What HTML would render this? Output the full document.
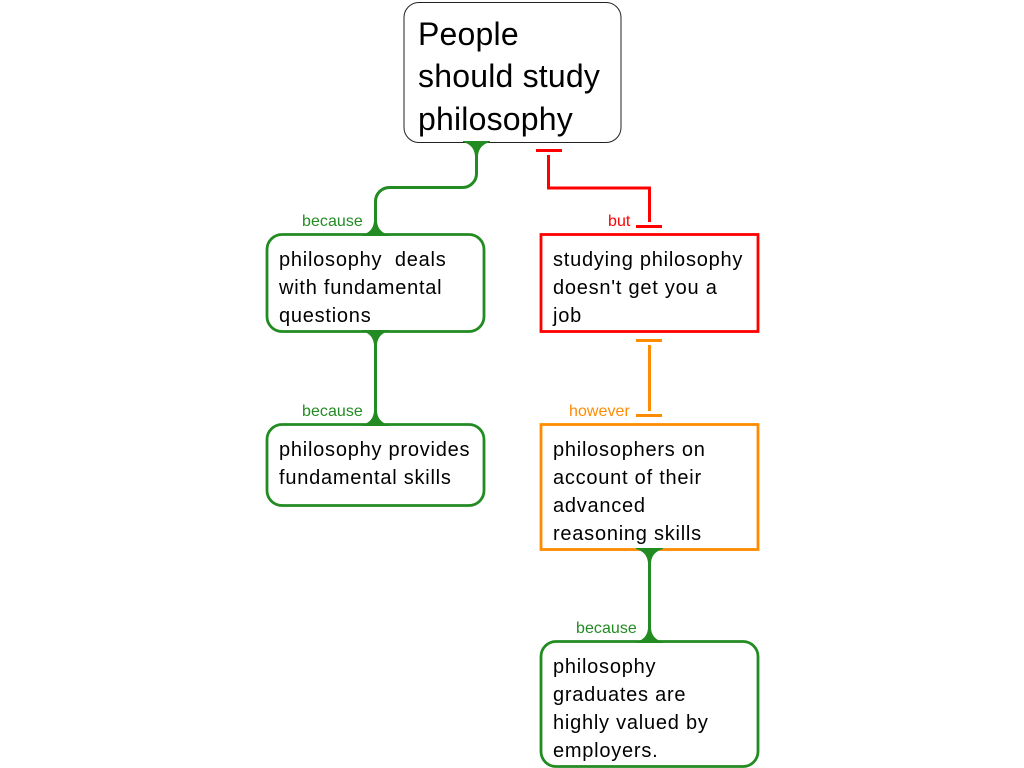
<!DOCTYPE html>
<html><head><meta charset="utf-8"><style>
html,body{margin:0;padding:0;background:#fff;width:1024px;height:768px;overflow:hidden}
svg{display:block}
text{font-family:"Liberation Sans",sans-serif}
.t{font-size:20px;letter-spacing:.76px;fill:#000}
.h{font-size:32px;letter-spacing:.2px;fill:#000}
.l{font-size:16px;letter-spacing:.05px}
</style></head><body>
<svg width="1024" height="768" viewBox="0 0 1024 768" xmlns="http://www.w3.org/2000/svg">
<g fill="none" stroke="#228b22" stroke-width="3">
<path d="M476.500 142V173A14 14 0 0 1 462.500 187.500H389.500A14 14 0 0 0 375.500 201.500V234"/>
<path d="M375.500 332V424"/>
<path d="M649.500 550V641"/>
</g>
<g fill="none" stroke="#ff0000" stroke-width="3">
<path d="M536 150.500H562M548.500 155V188H649.500V222"/>
<path d="M636 226.500H662"/>
</g>
<g fill="none" stroke="#ff8c00" stroke-width="3">
<path d="M636 340.500H662M649.500 345V411M636 415.500H662"/>
</g>
<rect x="404" y="2.500" width="217" height="140" rx="15" fill="#fff" stroke="#222" stroke-width="1"/>
<g fill="#fff" stroke-width="2.800">
<rect x="267" y="234.500" width="217" height="97" rx="15" stroke="#228b22"/>
<rect x="541" y="234.500" width="217" height="97" stroke="#ff0000"/>
<rect x="267" y="424.500" width="217" height="81" rx="15" stroke="#228b22"/>
<rect x="541" y="424.500" width="217" height="125" stroke="#ff8c00"/>
<rect x="541" y="641.500" width="217" height="125" rx="15" stroke="#228b22"/>
</g>
<g fill="#228b22">
<path d="M463 141H490V142C483 144 478.500 148 478 156H475C474.500 148 470 144 463 142Z"/>
<path d="M362 236H389V235C382 233 377.500 229 377 221H374C373.500 229 369 233 362 235Z"/>
<path d="M362 330H389V331C382 333 377.500 337 377 345H374C373.500 337 369 333 362 331Z"/>
<path d="M362 426H389V425C382 423 377.500 419 377 411H374C373.500 419 369 423 362 425Z"/>
<path d="M636 548H663V549C656 551 651.500 555 651 563H648C647.500 555 643 551 636 549Z"/>
<path d="M636 643H663V642C656 640 651.500 636 651 628H648C647.500 636 643 640 636 642Z"/>
</g>
<text class="h" x="418" y="45">People</text>
<text class="h" x="418" y="87">should study</text>
<text class="h" x="418" y="130">philosophy</text>
<text class="t" x="279" y="266" xml:space="preserve">philosophy  deals</text>
<text class="t" x="279" y="294">with fundamental</text>
<text class="t" x="279" y="322">questions</text>
<text class="t" x="553" y="266">studying philosophy</text>
<text class="t" x="553" y="294">doesn't get you a</text>
<text class="t" x="553" y="322">job</text>
<text class="t" x="279" y="456">philosophy provides</text>
<text class="t" x="279" y="484">fundamental skills</text>
<text class="t" x="553" y="456">philosophers on</text>
<text class="t" x="553" y="484">account of their</text>
<text class="t" x="553" y="512">advanced</text>
<text class="t" x="553" y="540">reasoning skills</text>
<text class="t" x="553" y="673">philosophy</text>
<text class="t" x="553" y="701">graduates are</text>
<text class="t" x="553" y="729">highly valued by</text>
<text class="t" x="553" y="757">employers.</text>
<text class="l" x="302" y="226" fill="#228b22">because</text>
<text class="l" x="608" y="226" fill="#ff0000">but</text>
<text class="l" x="302" y="416" fill="#228b22">because</text>
<text class="l" x="569" y="416" fill="#ff8c00">however</text>
<text class="l" x="576" y="633" fill="#228b22">because</text>
</svg>
</body></html>
